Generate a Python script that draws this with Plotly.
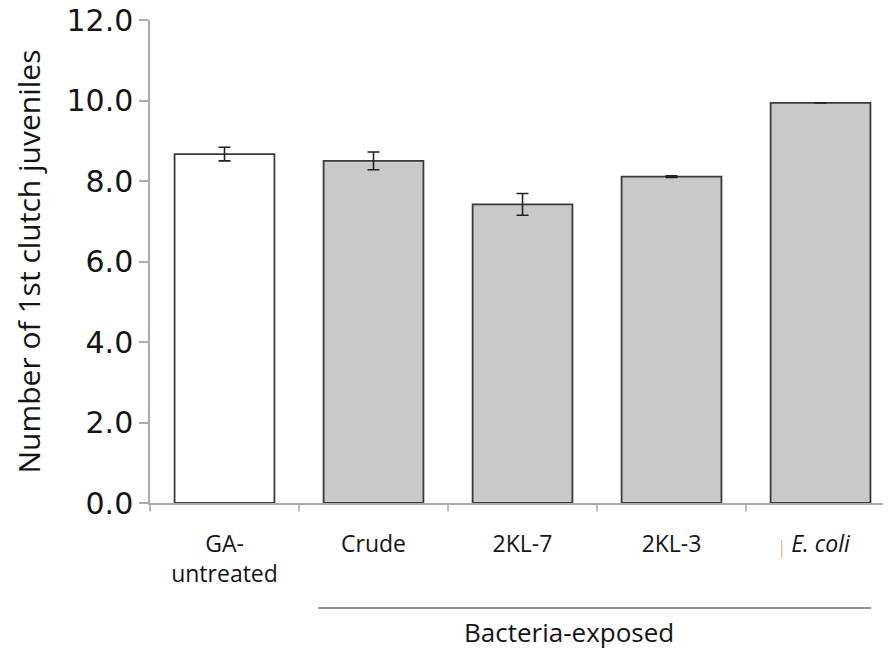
import plotly.graph_objects as go

categories = ["GA-<br>untreated", "Crude", "2KL-7", "2KL-3", "<i>E. coli</i>"]
values = [8.67, 8.50, 7.42, 8.11, 9.94]
errors = [0.17, 0.22, 0.27, 0.02, 0.0]
fills = ["#ffffff", "#c9c9c9", "#c9c9c9", "#c9c9c9", "#c9c9c9"]
y_ticks = [0, 2, 4, 6, 8, 10, 12]
y_title = "Number of 1st clutch juveniles"
group_label = "Bacteria-exposed"

FONT = "Open Sans"
TXT = "#151515"

fig = go.Figure()
fig.add_trace(go.Bar(
    x=list(range(len(categories))),
    y=values,
    marker=dict(color=fills, line=dict(color="#3a3a3a", width=1.8)),
    error_y=dict(type="data", array=errors, visible=True, color="#222222",
                 thickness=1.6, width=6),
    width=0.67,
))

# page body has an 8px margin, so the figure is shrunk/offset to compensate
fig.update_layout(
    width=883, height=642,
    margin=dict(l=142, r=0, t=12, b=147),
    paper_bgcolor="white", plot_bgcolor="white",
    showlegend=False,
    font=dict(family=FONT, color=TXT),
    xaxis=dict(
        range=[-0.5, 4.473],
        tickmode="array",
        tickvals=list(range(len(categories))),
        ticktext=categories,
        showline=True, linecolor="#aaaaaa", linewidth=1.5,
        ticks="", showgrid=False, zeroline=False,
        tickfont=dict(size=23, family=FONT, color=TXT),
        ticklabelstandoff=20,
        ticklabeloverflow="allow",
        automargin=False,
    ),
    yaxis=dict(
        range=[0, 12],
        tickmode="array",
        tickvals=y_ticks,
        tickformat=".1f",
        showline=True, linecolor="#aaaaaa", linewidth=1.5,
        ticks="outside", ticklen=9, tickcolor="#aaaaaa", tickwidth=1.5,
        showgrid=False, zeroline=False,
        tickfont=dict(size=30, family="DejaVu Sans", color=TXT),
        ticklabeloverflow="allow",
        automargin=False,
    ),
)

# x-axis boundary ticks between categories
for b in [-0.5, 0.5, 1.5, 2.5, 3.5]:
    fig.add_annotation(xref="x", yref="paper", x=b, y=0, text="", showarrow=True,
                       ax=0, ay=10, arrowhead=0, arrowwidth=1.5, arrowcolor="#aaaaaa",
                       axref="pixel", ayref="pixel")

fig.add_annotation(xref="paper", yref="paper", x=0, y=0.5, xshift=-122,
                   text=y_title, textangle=-90, showarrow=False,
                   font=dict(size=30, family=FONT, color=TXT),
                   xanchor="center", yanchor="middle")

# group bracket line and label
fig.add_shape(type="line", xref="x", yref="paper", x0=0.63, x1=4.34,
              y0=-105/483, y1=-105/483, line=dict(color="#222222", width=1.2))
fig.add_annotation(xref="x", yref="paper", x=2.31, y=-129/483, text=group_label,
                   showarrow=False, font=dict(size=26, family=FONT, color=TXT),
                   xanchor="center", yanchor="middle")

# faint vertical stroke left of the E. coli label, as in the source image
fig.add_shape(type="line", xref="x", yref="paper", x0=3.74, x1=3.74,
              y0=-37/483, y1=-55/483, line=dict(color="#d8a878", width=1))

fig.write_html("out.html")
